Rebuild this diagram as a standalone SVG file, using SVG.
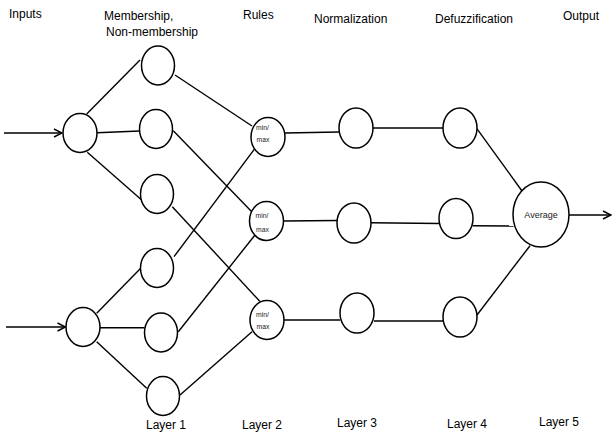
<svg xmlns="http://www.w3.org/2000/svg" width="613" height="435" viewBox="0 0 613 435">
<defs>
<style>
.n{fill:#fff;stroke:#000;stroke-width:1.5}
.c{stroke:#000;stroke-width:1.4;fill:none}
.t{font-family:"Liberation Sans",Arial,sans-serif;font-size:12px;fill:#000}
.s{font-family:"Liberation Sans",Arial,sans-serif;font-size:6.8px;fill:#222}
.a{font-family:"Liberation Sans",Arial,sans-serif;font-size:9px;fill:#222}
</style>
<marker id="arr" viewBox="0 0 10 10" refX="9" refY="5" markerWidth="10" markerHeight="10" markerUnits="userSpaceOnUse" orient="auto">
<path d="M1,1 L9,5 L1,9" fill="none" stroke="#000" stroke-width="1.4"/>
</marker>
</defs>
<rect width="613" height="435" fill="#fff"/>
<g id="headers">
<text class="t" x="9" y="17.5">Inputs</text>
<text class="t" x="104" y="19.5">Membership,</text>
<text class="t" x="106" y="36">Non-membership</text>
<text class="t" x="243" y="18.5">Rules</text>
<text class="t" x="314" y="22.5">Normalization</text>
<text class="t" x="435" y="22.5">Defuzzification</text>
<text class="t" x="563" y="20">Output</text>
</g>
<g id="layers">
<text class="t" x="146" y="428.5">Layer 1</text>
<text class="t" x="242" y="428.5">Layer 2</text>
<text class="t" x="337" y="426.5">Layer 3</text>
<text class="t" x="447" y="428">Layer 4</text>
<text class="t" x="539" y="426">Layer 5</text>
</g>
<g id="connectors">
<line class="c" x1="4" y1="133" x2="62" y2="133" marker-end="url(#arr)"/>
<line class="c" x1="6" y1="327" x2="65.5" y2="327" marker-end="url(#arr)"/>
<line class="c" x1="86.7" y1="114" x2="140" y2="60"/>
<line class="c" x1="97" y1="132.7" x2="139.5" y2="131"/>
<line class="c" x1="87.3" y1="152.3" x2="141.7" y2="200"/>
<line class="c" x1="96.7" y1="313.3" x2="140.7" y2="268.3"/>
<line class="c" x1="100" y1="327.7" x2="144.5" y2="327.7"/>
<line class="c" x1="96.7" y1="341.7" x2="146.7" y2="388.3"/>
<line class="c" x1="175" y1="75" x2="252" y2="126"/>
<line class="c" x1="173.3" y1="130.7" x2="252" y2="212"/>
<line class="c" x1="172.3" y1="206.7" x2="260" y2="301.5"/>
<line class="c" x1="174" y1="256.7" x2="255" y2="148.3"/>
<line class="c" x1="178.3" y1="331.7" x2="255" y2="235"/>
<line class="c" x1="180" y1="395" x2="252" y2="331.7"/>
<line class="c" x1="285" y1="133" x2="339" y2="132"/>
<line class="c" x1="283" y1="221" x2="337" y2="220.5"/>
<line class="c" x1="284" y1="320" x2="340" y2="320"/>
<line class="c" x1="373" y1="128" x2="443" y2="128"/>
<line class="c" x1="371" y1="222.7" x2="440" y2="223.5"/>
<line class="c" x1="374" y1="321" x2="444" y2="321"/>
<line class="c" x1="476.7" y1="128.3" x2="522" y2="191"/>
<line class="c" x1="472.7" y1="225.7" x2="513.5" y2="226"/>
<line class="c" x1="477" y1="315" x2="530" y2="245.7"/>
<line class="c" x1="569" y1="215" x2="611" y2="215" marker-end="url(#arr)"/>
</g>
<g id="in1"><ellipse class="n" cx="80" cy="133" rx="17" ry="19.5"/></g>
<g id="in2"><ellipse class="n" cx="83" cy="327" rx="17" ry="19.5"/></g>
<g id="m1"><ellipse class="n" cx="158" cy="65.5" rx="16.5" ry="19.5"/></g>
<g id="m2"><ellipse class="n" cx="156" cy="129" rx="16.5" ry="19.5"/></g>
<g id="m3"><ellipse class="n" cx="157" cy="194" rx="16.5" ry="19.5"/></g>
<g id="m4"><ellipse class="n" cx="157" cy="268" rx="16.5" ry="19.5"/></g>
<g id="m5"><ellipse class="n" cx="161" cy="332.5" rx="16.5" ry="19.5"/></g>
<g id="m6"><ellipse class="n" cx="163" cy="396" rx="16.5" ry="19.5"/></g>
<g id="r1"><ellipse class="n" cx="268" cy="137" rx="17" ry="19.5"/><text class="s" x="256" y="130">min/</text><text class="s" x="256.5" y="142">max</text></g>
<g id="r2"><ellipse class="n" cx="266.5" cy="221" rx="17" ry="19.5"/><text class="s" x="255.5" y="217.5">min/</text><text class="s" x="256" y="231.5">max</text></g>
<g id="r3"><ellipse class="n" cx="267" cy="320" rx="17" ry="19.5"/><text class="s" x="256" y="317">min/</text><text class="s" x="256.5" y="329">max</text></g>
<g id="n1"><ellipse class="n" cx="356" cy="128" rx="17" ry="20"/></g>
<g id="n2"><ellipse class="n" cx="354" cy="223" rx="17" ry="20"/></g>
<g id="n3"><ellipse class="n" cx="357" cy="313" rx="17" ry="20"/></g>
<g id="d1"><ellipse class="n" cx="460" cy="128" rx="17" ry="20"/></g>
<g id="d2"><ellipse class="n" cx="456" cy="218.5" rx="17" ry="20"/></g>
<g id="d3"><ellipse class="n" cx="460" cy="317" rx="17" ry="20"/></g>
<g id="avg"><ellipse class="n" cx="541" cy="214.5" rx="28" ry="32.5"/><text class="a" x="541" y="217.5" text-anchor="middle">Average</text></g>
</svg>
